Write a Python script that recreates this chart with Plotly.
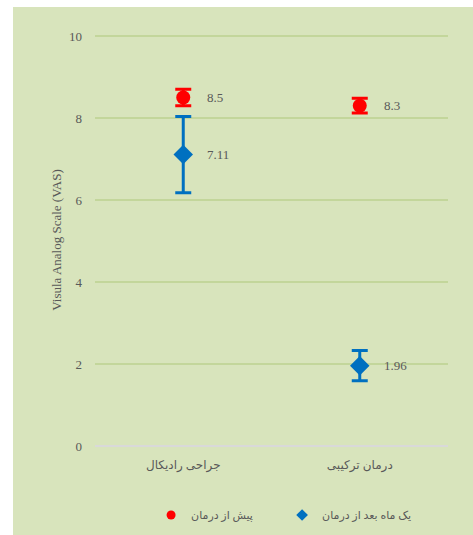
import plotly.graph_objects as go

categories = ["جراحی رادیکال", "درمان ترکیبی"]
series_names = ["پیش از درمان", "یک ماه بعد از درمان"]
before_values = [8.5, 8.3]
before_errors = [0.2, 0.18]
after_values = [7.11, 1.96]
after_errors = [0.93, 0.37]
y_ticks = [0, 2, 4, 6, 8, 10]

RED = "#ff0000"
BLUE = "#0070c0"
GREEN_BG = "#d8e4bc"
GRID = "#c3d69b"
TXT = "#595959"
FONT = "Liberation Serif, DejaVu Sans, serif"

fig = go.Figure()
fig.add_trace(go.Scatter(
    x=categories, y=before_values, mode="markers", name=series_names[0], showlegend=False,
    marker=dict(symbol="circle", size=14, color=RED),
    error_y=dict(type="data", array=before_errors, color=RED, thickness=3, width=8),
))
fig.add_trace(go.Scatter(
    x=categories, y=after_values, mode="markers", name=series_names[1], showlegend=False,
    marker=dict(symbol="diamond", size=15, color=BLUE),
    error_y=dict(type="data", array=after_errors, color=BLUE, thickness=3, width=8),
))
# legend entries with small symbols
fig.add_trace(go.Scatter(x=[None], y=[None], mode="markers", name=series_names[0],
                         marker=dict(symbol="circle", size=9, color=RED)))
fig.add_trace(go.Scatter(x=[None], y=[None], mode="markers", name=series_names[1],
                         marker=dict(symbol="diamond", size=9, color=BLUE)))

for vals in (before_values, after_values):
    for c, v in zip(categories, vals):
        fig.add_annotation(x=c, y=v, text=str(v), showarrow=False,
                           xanchor="left", xshift=22,
                           font=dict(family=FONT, size=13, color=TXT))

PH = 412.0
fig.add_shape(type="rect", xref="paper", yref="paper",
              x0=(13 - 95) / 353, x1=(473 - 95) / 353,
              y0=(446 - 535) / PH, y1=(446 - 7) / PH,
              fillcolor=GREEN_BG, line=dict(width=0), layer="below")

fig.update_layout(
    width=473, height=535,
    margin=dict(l=95, r=25, t=34, b=89, autoexpand=False),
    paper_bgcolor="white", plot_bgcolor="rgba(0,0,0,0)",
    font=dict(family=FONT, size=13, color=TXT),
    showlegend=True,
    legend=dict(orientation="h", x=0.53, xanchor="center", y=(446 - 515) / PH, yanchor="middle",
                itemwidth=30, entrywidth=86, traceorder="normal",
                bgcolor="rgba(0,0,0,0)", font=dict(family=FONT, size=11, color=TXT)),
    xaxis=dict(type="category", range=[-0.5, 1.5], showgrid=False, zeroline=False,
               showline=False, ticks="", ticklabelstandoff=10,
               tickfont=dict(family=FONT, size=12, color=TXT)),
    yaxis=dict(range=[0, 10.05], tickvals=y_ticks, showgrid=True, gridcolor=GRID, gridwidth=1.5,
               zeroline=True, zerolinecolor="#d9d9d9", zerolinewidth=1.5, showline=False,
               ticks="", ticklabelstandoff=12,
               title=dict(text="Visula Analog Scale (VAS)", standoff=4,
                          font=dict(family=FONT, size=13, color=TXT)),
               tickfont=dict(family=FONT, size=13, color=TXT)),
)

fig.write_html("out.html", config={"displayModeBar": False},
               post_script="document.body.style.margin='0px';document.body.style.overflow='hidden';")
